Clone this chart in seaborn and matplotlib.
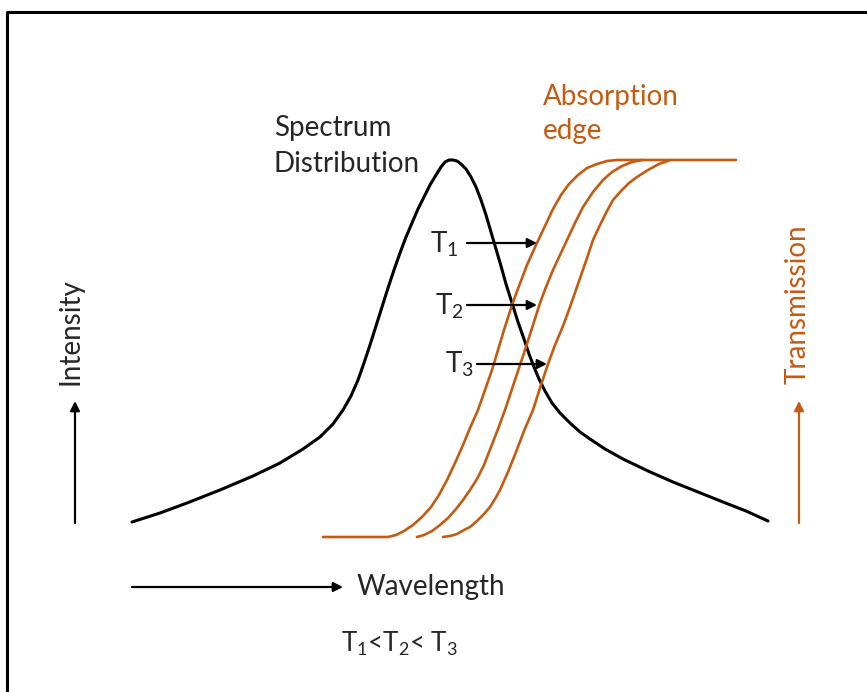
import pandas as pd
import matplotlib.pyplot as plt
import seaborn as sns

# Curves (pixel-like units, y grows downwards)
spectrum_x = [132, 160, 187, 220, 253, 280, 303, 320, 333, 343, 351, 358, 364, 370, 376, 382,
              388, 394, 400, 406, 412, 418, 424, 430, 436, 441, 445, 449, 453, 457, 461, 466,
              471, 476, 481, 486, 491, 496, 501, 506, 512, 518, 524, 529, 534, 539, 545, 552,
              560, 570, 580, 590, 605, 623, 648, 673, 698, 723, 746, 768]
spectrum_y = [522, 513, 503, 490, 476, 463, 449, 437, 424, 410, 396, 380, 363, 345, 326, 307,
              288, 270, 253, 237, 223, 209, 197, 185, 175, 167, 162, 160, 160, 161, 164, 169,
              177, 187, 200, 215, 232, 249, 266, 284, 303, 322, 339, 354, 367, 379, 391, 403,
              413, 423, 432, 439, 449, 459, 471, 482, 492, 502, 511, 521]

edge1_x = [323, 388, 396, 404, 413, 422, 431, 439, 447, 455, 463, 470, 478, 485, 492, 498,
           504, 512, 519, 527, 536, 545, 553, 561, 569, 578, 587, 597, 607, 617, 736]
edge1_y = [537, 537, 535, 531, 525, 517, 507, 495, 480, 463, 445, 428, 410, 390, 370, 350,
           330, 305, 286, 265, 245, 226, 209, 195, 184, 175, 168, 164, 161, 160, 160]

edge2_x = [417, 424, 432, 440, 448, 456, 463, 470, 477, 484, 491, 498, 505, 512, 519, 526,
           533, 540, 546, 553, 560, 567, 575, 583, 593, 603, 612, 622, 632, 642]
edge2_y = [537, 535, 531, 525, 518, 509, 500, 490, 479, 465, 447, 429, 410, 389, 368, 347,
           325, 303, 287, 270, 255, 240, 223, 207, 192, 180, 172, 166, 162, 160]

edge3_x = [443, 450, 457, 464, 470, 477, 484, 490, 495, 500, 508, 516, 524, 533, 540, 548,
           555, 563, 570, 578, 586, 593, 600, 607, 613, 621, 629, 637, 648, 659, 670]
edge3_y = [537, 536, 534, 530, 527, 521, 514, 507, 499, 490, 472, 452, 431, 410, 388, 364,
           345, 326, 307, 284, 261, 240, 225, 211, 200, 191, 183, 177, 170, 164, 160]

# Arrows: (x_start, y_start, x_end, y_end)
t_arrows = [(467, 243, 537, 243), (467, 305, 537, 305), (477, 364, 547, 364)]
t_labels = ['T$_1$', 'T$_2$', 'T$_3$']
t_label_x = [430, 435, 445]
t_label_y = [244, 306, 364]
intensity_arrow = (75, 523, 75, 401)
transmission_arrow = (799, 523, 799, 401)
wavelength_arrow = (132, 587, 343, 587)

orange = '#C55A11'

sns.set_style('white')
plt.rcParams['font.family'] = ['Lato', 'DejaVu Sans']
plt.rcParams['mathtext.fontset'] = 'custom'
plt.rcParams['mathtext.rm'] = 'Lato'

fig = plt.figure(figsize=(8.67, 6.92), dpi=100)
ax = fig.add_axes([0, 0, 1, 1])

spec = pd.DataFrame({'x': spectrum_x, 'y': spectrum_y})
sns.lineplot(data=spec, x='x', y='y', sort=False, estimator=None, color='black', lw=2.2, ax=ax)
for ex, ey in [(edge1_x, edge1_y), (edge2_x, edge2_y), (edge3_x, edge3_y)]:
    df = pd.DataFrame({'x': ex, 'y': ey})
    sns.lineplot(data=df, x='x', y='y', sort=False, estimator=None, color=orange, lw=1.9, ax=ax)

def arrow(a, color='black'):
    ax.annotate('', xy=(a[2], a[3]), xytext=(a[0], a[1]),
                arrowprops=dict(arrowstyle='-|>', color=color, lw=1.6, mutation_scale=14,
                                shrinkA=0, shrinkB=0))

for a in t_arrows:
    arrow(a)
arrow(intensity_arrow)
arrow(transmission_arrow, orange)
arrow(wavelength_arrow)

fs = 20
for lab, lx, ly in zip(t_labels, t_label_x, t_label_y):
    ax.text(lx, ly, lab, fontsize=fs, ha='left', va='center')

ax.text(274, 146, 'Spectrum\nDistribution', fontsize=fs, ha='left', va='center', linespacing=1.45)
ax.text(543, 114, 'Absorption\nedge', fontsize=fs, ha='left', va='center', color=orange, linespacing=1.4)
ax.text(70, 332, 'Intensity', fontsize=fs, rotation=90, ha='center', va='center')
ax.text(798, 304, 'Transmission', fontsize=fs, rotation=90, ha='center', va='center', color=orange)
ax.text(357, 587, 'Wavelength', fontsize=fs, ha='left', va='center')
ax.text(341, 644, 'T$_1$<T$_2$< T$_3$', fontsize=18.5, ha='left', va='center')

# frame
ax.plot([7, 7, 900], [700, 12, 12], color='black', lw=2.2)

ax.set_xlim(0, 867)
ax.set_ylim(692, 0)
ax.set_axis_off()

plt.savefig('out.png', dpi=100)
